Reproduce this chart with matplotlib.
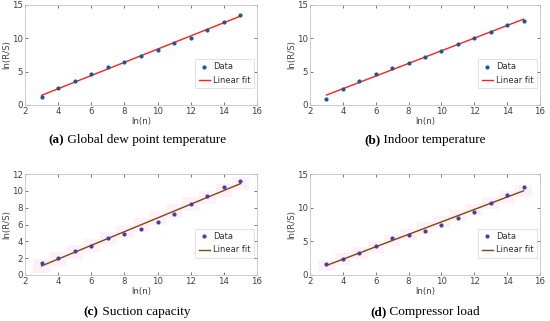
import numpy as np
import matplotlib
matplotlib.use("Agg")
import matplotlib.pyplot as plt

x = [3, 4, 5, 6, 7, 8, 9, 10, 11, 12, 13, 14, 15]
y_dew = [1.15, 2.5, 3.6, 4.65, 5.65, 6.4, 7.35, 8.25, 9.25, 10.1, 11.2, 12.5, 13.55]
y_indoor = [0.9, 2.35, 3.6, 4.65, 5.6, 6.35, 7.2, 8.15, 9.1, 10.0, 10.95, 12.05, 12.55]
y_suction = [1.4, 2.05, 2.85, 3.5, 4.45, 4.85, 5.5, 6.35, 7.25, 8.4, 9.4, 10.4, 11.15]
y_comp = [1.6, 2.45, 3.3, 4.35, 5.45, 5.9, 6.6, 7.45, 8.4, 9.3, 10.65, 11.95, 13.1]

captions = [("(a)", "Global dew point temperature"),
            ("(b)", "Indoor temperature"),
            ("(c)", "Suction capacity"),
            ("(d)", "Compressor load")]

W, H = 550, 321
fig = plt.figure(figsize=(W / 100, H / 100), dpi=100)

def px_axes(l, t, r, b):
    return fig.add_axes([l / W, 1 - b / H, (r - l) / W, (b - t) / H])

panels = [
    dict(box=(25, 5, 257, 105), y=y_dew, ylim=(0, 15), yt=[0, 5, 10, 15],
         mc="#1a5a8a", lc="#ff2020", band=False, cx=137, cy=140),
    dict(box=(310, 5, 540, 105), y=y_indoor, ylim=(0, 15), yt=[0, 5, 10, 15],
         mc="#1a5a8a", lc="#ff2020", band=False, cx=425, cy=140),
    dict(box=(25, 174, 257, 275), y=y_suction, ylim=(0, 12), yt=[0, 2, 4, 6, 8, 10, 12],
         mc="#4a3ea0", lc="#7a4a10", band=True, cx=137, cy=312),
    dict(box=(310, 174, 540, 275), y=y_comp, ylim=(0, 15), yt=[0, 5, 10, 15],
         mc="#4a3ea0", lc="#7a4a10", band=True, cx=425, cy=312),
]

for p, (lab, cap) in zip(panels, captions):
    ax = px_axes(*p["box"])
    xa = np.array(x, dtype=float)
    ya = np.array(p["y"], dtype=float)
    k, b = np.polyfit(xa, ya, 1)
    xf = np.array([xa.min(), xa.max()])
    if p["band"]:
        for xi in xa:
            ax.fill_between([xi - 0.5, xi + 0.5], k * (xi - 0.5) + b - 0.4,
                            k * (xi + 0.5) + b + 0.4, color="#fdf0f6", lw=0, zorder=0)
    ax.plot(xa, ya, ".", color=p["mc"], ms=4, label="Data", zorder=3)
    ax.plot(xf, k * xf + b, "-", color=p["lc"], lw=1.0, label="Linear fit", zorder=2)
    ax.set_xlim(2, 16)
    ax.set_ylim(*p["ylim"])
    ax.set_xticks([2, 4, 6, 8, 10, 12, 14, 16])
    ax.set_yticks(p["yt"])
    ax.tick_params(direction="in", length=2, width=0.5, labelsize=6.2, colors="#404040",
                   pad=1.5, top=True, right=True)
    for s in ax.spines.values():
        s.set_color("#c4c4c4")
        s.set_linewidth(0.6)
    ax.set_xlabel("ln(n)", fontsize=6.2, color="#404040", labelpad=1)
    ax.set_ylabel("ln(R/S)", fontsize=6.2, color="#404040", labelpad=0.3)
    leg = ax.legend(loc="lower right", bbox_to_anchor=(0.985, 0.17), fontsize=6,
                    frameon=True, fancybox=False, handlelength=1.4, handletextpad=0.3,
                    borderpad=0.4, labelspacing=0.5, borderaxespad=0)
    leg.get_frame().set_edgecolor("#cccccc")
    leg.get_frame().set_linewidth(0.5)
    for t in leg.get_texts():
        t.set_color("#303030")
    # caption: bold label + normal text, centred as a pair
    t1 = fig.text(0, 0, lab, fontsize=9.5, fontweight="bold", family="Liberation Serif")
    t2 = fig.text(0, 0, " " + cap, fontsize=9.5, family="Liberation Serif")
    fig.canvas.draw()
    r = fig.canvas.get_renderer()
    w1 = t1.get_window_extent(r).width
    w2 = t2.get_window_extent(r).width
    x0 = p["cx"] - (w1 + w2) / 2
    t1.set_position((x0 / W, 1 - p["cy"] / H)); t1.set_va("center")
    t2.set_position(((x0 + w1) / W, 1 - p["cy"] / H)); t2.set_va("center")

fig.savefig("out.png", dpi=100)
